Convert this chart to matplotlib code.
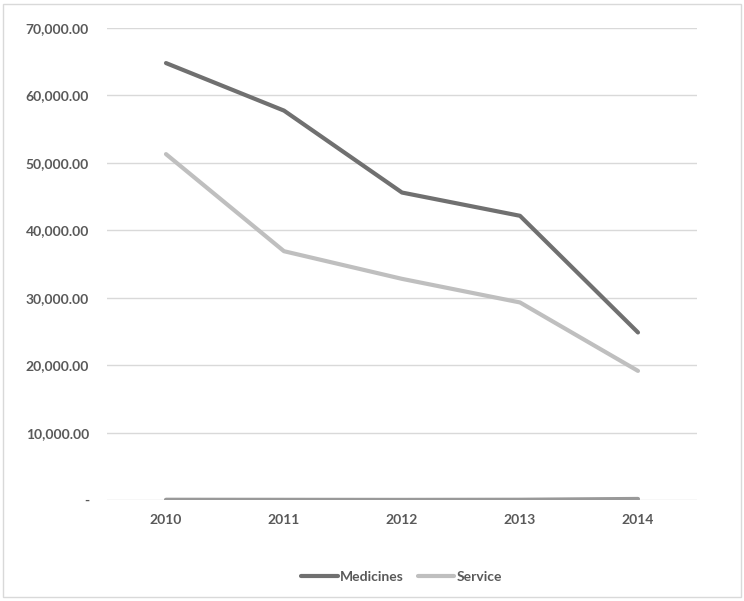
import matplotlib.pyplot as plt
from matplotlib.ticker import FuncFormatter, MultipleLocator
from matplotlib.patches import Rectangle

# data
years = ["2010", "2011", "2012", "2013", "2014"]
medicines = [64800, 57750, 45600, 42150, 24850]
service = [51300, 36900, 32800, 29300, 19150]
other = [40, 30, 20, 40, 160]   # unlabelled series near zero

plt.rcParams['font.family'] = ['Lato', 'DejaVu Sans']
text_color = '#595959'

fig = plt.figure(figsize=(7.44, 6.01), dpi=100)
ax = fig.add_axes([0.1438, 0.168, 0.7930, 0.7854])

x = range(len(years))
ax.plot(x, medicines, color='#707070', lw=3, solid_capstyle='round', label='Medicines', zorder=3)
ax.plot(x, service, color='#bfbfbf', lw=3, solid_capstyle='round', label='Service', zorder=3)
ax.plot(x, other, color='#999999', lw=3, solid_capstyle='round', zorder=3)

ax.set_xlim(-0.5, len(years) - 0.5)
ax.set_ylim(0, 70000)
ax.yaxis.set_major_locator(MultipleLocator(10000))
ax.yaxis.set_major_formatter(FuncFormatter(lambda v, p: '-' if v == 0 else f'{v:,.2f}'))
ax.set_xticks(list(x))
ax.set_xticklabels(years)

ax.grid(axis='y', color='#d9d9d9', lw=1)
ax.set_axisbelow(True)
for s in ax.spines.values():
    s.set_visible(False)
ax.tick_params(length=0, colors=text_color, labelsize=10)
ax.tick_params(axis='y', pad=13)
ax.tick_params(axis='x', pad=10)
for lab in ax.get_xticklabels() + ax.get_yticklabels():
    lab.set_fontweight('bold')

leg = ax.legend(loc='center', bbox_to_anchor=(0.5, -0.162), ncol=2, frameon=False,
                handlelength=2.6, columnspacing=1.0, handletextpad=0.2,
                prop={'size': 10, 'weight': 'bold'})
for t in leg.get_texts():
    t.set_color(text_color)

# outer chart border
fig.patches.append(Rectangle((3 / 744, 4 / 601), 738 / 744, 593 / 601, transform=fig.transFigure,
                             fill=False, edgecolor='#d9d9d9', lw=1))

fig.savefig('out.png', dpi=100)
